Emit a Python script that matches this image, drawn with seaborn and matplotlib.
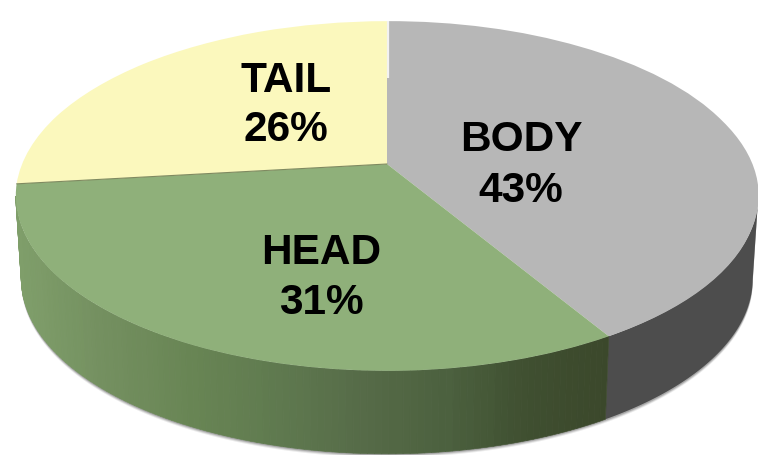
import numpy as np
import seaborn as sns
import matplotlib.pyplot as plt
from matplotlib.transforms import Transform

# data
parts = ['BODY', 'HEAD', 'TAIL']
shares = [43, 31, 26]
top_colors = ['#b7b7b7', '#8fb07a', '#fbf8bd']
wall_colors = ['#7f9e6a', '#738f5f', '#688554', '#5f7a4f', '#566b48', '#4c613f', '#3f4f30', '#3b482b']
label_x = [521, 321, 286]
name_y = [151, 264, 92]
pct_y = [202, 314, 141]

sns.set_theme(style='white')
plt.rcParams['font.family'] = ['Liberation Sans', 'DejaVu Sans']

cut = 90 - np.cumsum([0] + shares) * 3.6  # slice edges in degrees
view = np.array([90, -59.2, -173.4, -270])  # same edges as the picture's tilted view shows them

# perspective of the tilted disc, in pixels
cx, cy, sx, sy, tilt = 387, 165, 365, 169, 0.183
depth = 83
shrink = 0.985


class Camera(Transform):
    input_dims = output_dims = 2

    def transform_non_affine(self, pts):
        pts = np.asarray(pts, dtype=float)
        r = np.hypot(pts[:, 0], pts[:, 1])
        deg = (np.degrees(np.arctan2(pts[:, 1], pts[:, 0])) + 270) % 360 - 270
        deg = np.radians(np.interp(deg, cut[::-1], view[::-1]))
        u, v = r * np.cos(deg), r * np.sin(deg)
        w = 1 + tilt * v
        return np.c_[cx + sx * u / w, cy - sy * v / w]


cam = Camera()


def on_circle(deg):
    return np.c_[np.cos(np.radians(deg)), np.sin(np.radians(deg))]


def rim(deg):
    return cam.transform_non_affine(on_circle(deg))


def lower(pts, extra=0):
    out = pts.copy()
    out[:, 0] = cx + (out[:, 0] - cx) * shrink
    out[:, 1] = out[:, 1] + depth + extra
    return out


fig, ax = plt.subplots(figsize=(7.58, 4.56), dpi=100)
fig.subplots_adjust(0, 0, 1, 1)
wedges, _ = ax.pie(shares, colors=top_colors, startangle=90, counterclock=False,
                   wedgeprops={'linewidth': 0})
ax.set_aspect('auto')
ax.set_xlim(0, 758)
ax.set_ylim(456, 0)
for w in wedges:
    w.set_transform(cam + ax.transData)
    w.set_zorder(5)

# right and left ends of the outline
grid = np.linspace(cut[0], cut[0] - 360, 721)
xs = rim(grid)[:, 0]
right_end, left_end = grid[xs.argmax()], grid[xs.argmin()]

# soft shadow below the side wall
edge = rim(np.linspace(right_end, left_end, 200))
for extra, al in zip([3.5, 2.5, 1.5], [0.12, 0.2, 0.3]):
    low = lower(edge, extra)
    ax.fill(np.r_[edge[:, 0], low[::-1, 0]], np.r_[edge[:, 1], low[::-1, 1]],
            color='#555555', alpha=al, lw=0, zorder=1)

# side wall, body part is flat dark grey
edge = rim(np.linspace(right_end, cut[1], 60))
low = lower(edge)
ax.fill(np.r_[edge[:, 0], low[::-1, 0]], np.r_[edge[:, 1], low[::-1, 1]],
        color='#4d4d4d', lw=0, zorder=2)

# side wall, head part gets darker from left to right
edge = rim(np.linspace(left_end, cut[1], 120))
low = lower(edge)
wall = sns.blend_palette(wall_colors, 100)
x0, x1 = edge[0, 0], edge[-1, 0]
for i in range(119):
    c = wall[int(np.clip((edge[i, 0] - x0) / (x1 - x0) * 99, 0, 99))]
    ax.fill([edge[i, 0], edge[i + 1, 0], low[i + 1, 0], low[i, 0]],
            [edge[i, 1], edge[i + 1, 1], low[i + 1, 1], low[i, 1]],
            color=c, ec=c, lw=0.5, zorder=3)

# thin seams on the top face
seam = cam.transform_non_affine(np.vstack([[0, 0], on_circle(cut[2])]))
ax.plot(seam[:, 0], seam[:, 1], color='#7f8a60', lw=0.8, zorder=6)
seam = cam.transform_non_affine(on_circle(cut[0]) * [[1], [0.56]])
ax.plot(seam[:, 0] + 1, seam[:, 1], color='#f2f2f2', lw=1.6, zorder=6, solid_capstyle='butt')

for name, val, x, y1, y2 in zip(parts, shares, label_x, name_y, pct_y):
    ax.text(x, y1, name, ha='center', va='baseline', fontsize=30.5, fontweight='bold', color='black', zorder=7)
    ax.text(x, y2, f'{val}%', ha='center', va='baseline', fontsize=30.5, fontweight='bold', color='black', zorder=7)

plt.savefig('out.png', dpi=100)
